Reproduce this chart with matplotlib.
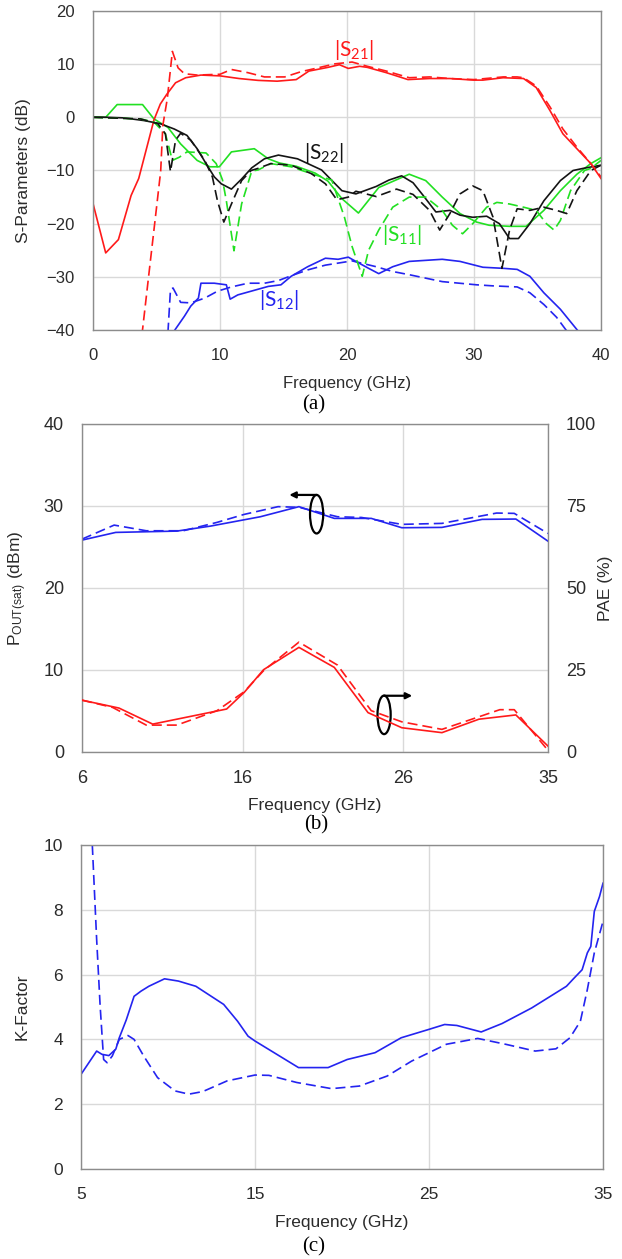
import matplotlib
matplotlib.use("Agg")
import matplotlib.pyplot as plt
from matplotlib.patches import Ellipse

plt.rcParams['font.family'] = ['Liberation Sans', 'DejaVu Sans']
plt.rcParams['mathtext.fontset'] = 'custom'
plt.rcParams['mathtext.rm'] = 'Liberation Sans'
plt.rcParams['mathtext.it'] = 'Liberation Sans'

# ---------------- (a) S-parameters ----------------
s21_sol_f = [0, 1.0, 2.0, 3.0, 3.6, 4.2, 4.8, 5.3, 5.8, 6.5, 7.3, 8.5, 10, 11.5, 13, 14.5, 16, 17,
             18.5, 19.4, 20.1, 21.0, 21.6, 23.1, 24.8, 26.5, 28.1, 30, 30.7, 32.3, 33.9, 34.9, 36.0,
             37.0, 38.1, 39.2, 40]
s21_sol = [-16.2, -25.5, -23.0, -14.7, -11.5, -6.0, -0.5, 2.5, 4.3, 6.5, 7.45, 7.95, 7.8, 7.3, 6.95,
           6.8, 7.1, 8.7, 9.4, 9.9, 9.2, 9.6, 9.4, 8.4, 7.1, 7.3, 7.3, 7.0, 7.0, 7.45, 7.3, 5.6, 1.2,
           -3.1, -5.9, -8.7, -11.5]
s21_dash_f = [3.85, 4.5, 5.0, 5.33, 5.5, 5.85, 6.25, 6.7, 7.2, 8.2, 10, 10.9, 12.2, 13.5, 15.1, 16.4,
              17.7, 19.05, 20.4, 21.6, 23.1, 24.9, 26.5, 28.1, 30, 32.3, 33.4, 33.9, 34.9, 36, 37,
              38.1, 39.2, 40]
s21_dash = [-41, -27.4, -17.0, -10.1, -1.5, 3.5, 12.4, 9.3, 8.2, 7.95, 8.1, 9.0, 8.4, 7.6, 7.6, 8.6,
            9.3, 10.06, 10.4, 9.6, 8.7, 7.45, 7.6, 7.3, 7.1, 7.6, 7.6, 7.45, 5.9, 1.9, -2.2, -5.6,
            -8.7, -11.2]

s11_sol_f = [0, 1.0, 1.9, 3.9, 4.8, 5.9, 6.9, 8.2, 9.2, 9.95, 10.9, 12.7, 13.8, 14.7, 16.0, 17.5,
             18.5, 19.6, 20.9, 22.5, 24.9, 26.2, 27.5, 28.9, 30.2, 31.2, 32.8, 34.1, 35.5, 36.8, 38.1,
             39.2, 40]
s11_sol = [0, 0, 2.4, 2.4, -0.3, -1.9, -5.0, -8.1, -9.3, -9.3, -6.5, -5.9, -7.8, -8.6, -9.2, -10.5,
           -12.0, -15.3, -18.0, -13.2, -10.7, -11.9, -15.0, -18.1, -19.7, -20.3, -20.5, -20.5, -17.5,
           -13.8, -10.7, -8.7, -7.6]
s11_dash_f = [0, 3.75, 4.8, 5.7, 6.25, 6.8, 7.4, 8.9, 9.7, 10.2, 10.5, 11.1, 11.7, 12.5, 13.0, 14.0,
              15.6, 17.2, 18.8, 19.8, 20.4, 21.2, 21.7, 22.5, 23.6, 24.9, 26.2, 27.5, 28.3, 29.1,
              29.9, 31.0, 31.8, 32.8, 33.9, 34.9, 35.7, 36.3, 36.8, 37.6, 38.7, 39.2, 40]
s11_dash = [0, -0.3, -0.9, -3.1, -8.1, -7.5, -6.5, -6.7, -8.7, -11.8, -15.7, -25.1, -16.3, -10.1,
            -9.9, -8.7, -9.3, -10.6, -11.8, -18.8, -24.3, -29.9, -25.0, -21.2, -16.9, -15.0, -15.0,
            -17.5, -20.3, -21.9, -20.0, -16.9, -16.0, -16.3, -16.9, -17.5, -20.0, -21.2, -19.4,
            -13.8, -10.0, -9.6, -8.1]

s22_sol_f = [0, 2.4, 4.0, 5.3, 6.4, 7.4, 8.2, 8.9, 9.55, 10.1, 10.9, 11.7, 12.5, 13.5, 14.6, 16.1,
             18.0, 19.6, 20.7, 22.3, 23.3, 24.3, 25.2, 26.0, 27.0, 28.1, 28.9, 29.9, 31.0, 32.0,
             32.8, 33.5, 34.4, 35.5, 36.8, 37.8, 38.6, 40]
s22_sol = [0.1, -0.1, -0.6, -1.2, -2.2, -3.4, -5.9, -8.7, -11.2, -12.5, -13.5, -11.6, -9.5, -7.8,
           -7.1, -7.8, -9.9, -13.8, -14.4, -13.0, -11.8, -11.0, -12.3, -14.7, -17.8, -17.5, -18.4,
           -18.8, -18.6, -20.0, -22.8, -22.8, -20.0, -15.7, -11.9, -10.0, -9.6, -9.0]
s22_dash_f = [0, 3.75, 5.1, 5.7, 6.1, 6.5, 6.9, 7.7, 8.8, 9.4, 9.8, 10.3, 10.9, 11.7, 12.45, 13.0,
              14.0, 15.6, 17.2, 18.3, 19.2, 20.1, 20.7, 22.3, 23.9, 25.2, 26.5, 27.3, 28.1, 28.9,
              29.9, 30.7, 31.5, 32.2, 32.8, 33.4, 34.4, 35.5, 36.5, 37.3, 38.1, 39.2, 40]
s22_dash = [0, -0.3, -1.2, -3.1, -10.2, -4.3, -3.0, -4.3, -8.1, -11.2, -15.7, -19.7, -16.3, -11.9,
            -10.0, -9.6, -8.7, -9.0, -10.6, -12.5, -15.5, -15.0, -13.9, -14.9, -13.5, -14.5, -17.5,
            -21.2, -18.1, -14.4, -12.9, -13.8, -18.8, -28.4, -21.2, -17.2, -17.5, -16.9, -17.5,
            -18.1, -13.8, -10.0, -9.0]

s12_sol_f = [6.3, 7.2, 7.7, 8.3, 8.5, 9.55, 10.5, 10.8, 11.4, 12.45, 13.8, 14.8, 15.6, 16.9, 18.3,
             19.3, 20.1, 20.7, 21.7, 22.5, 23.6, 24.9, 27.5, 28.9, 30.7, 32.3, 33.4, 34.4, 35.5,
             36.8, 38.3]
s12_sol = [-40.5, -37.4, -35.5, -34.0, -31.2, -31.2, -31.5, -34.2, -33.4, -32.7, -31.8, -31.5, -29.9,
           -28.1, -26.5, -26.7, -26.3, -27.1, -28.4, -29.4, -28.1, -27.1, -26.7, -27.1, -28.2, -28.4,
           -28.6, -29.9, -33.0, -36.1, -40.5]
s12_dash_f = [5.9, 6.1, 6.3, 6.9, 7.7, 8.8, 9.8, 10.9, 12.2, 13.5, 14.6, 15.6, 16.9, 18.3, 20.4,
              22.3, 23.6, 24.9, 27.5, 30.2, 31.5, 33.4, 34.4, 35.5, 36.5, 37.4]
s12_dash = [-40.5, -32.4, -32.1, -34.8, -34.9, -34.0, -32.7, -31.9, -31.2, -31.2, -30.7, -29.8,
            -28.7, -27.8, -27.0, -28.1, -29.0, -29.6, -30.9, -31.5, -31.7, -31.9, -33.0, -35.2,
            -37.6, -40.5]

# ---------------- (b) Pout / PAE ----------------
pout_sol_f = [6, 8.1, 11.9, 14.0, 17.1, 19.5, 21.7, 24.0, 25.9, 28.4, 30.9, 33.0, 35]
pout_sol = [25.84, 26.78, 26.94, 27.55, 28.69, 29.92, 28.49, 28.49, 27.35, 27.39, 28.37, 28.41, 25.71]
pout_dash_f = [6, 8.0, 10.0, 12.3, 14.4, 16.1, 18.2, 19.5, 21.9, 23.4, 25.9, 28.4, 31.8, 32.9, 35]
pout_dash = [25.96, 27.67, 26.98, 26.98, 28.0, 28.98, 29.92, 29.84, 28.69, 28.6, 27.76, 27.88, 29.14,
             29.1, 26.65]
pae_sol_f = [6, 8.3, 10.4, 15.0, 16.1, 17.3, 19.5, 21.7, 23.8, 25.9, 28.4, 30.7, 33.0, 35]
pae_sol = [15.8, 13.4, 8.5, 13.1, 18.2, 25.1, 31.9, 25.8, 12.0, 7.4, 5.9, 10.0, 11.3, 1.8]
pae_dash_f = [6, 7.9, 10.0, 11.9, 14.4, 16.1, 17.3, 19.5, 21.9, 24.0, 25.9, 28.4, 32.0, 32.9, 35]
pae_dash = [15.8, 13.6, 8.2, 8.2, 12.6, 18.4, 24.8, 33.5, 26.5, 12.6, 9.2, 6.9, 12.9, 12.9, 0.5]

# ---------------- (c) K-factor ----------------
k_sol_f = [5, 5.9, 6.2, 6.6, 7.0, 7.2, 7.6, 8.05, 8.45, 8.9, 9.8, 10.6, 11.6, 13.2, 14.0, 14.6, 15.0,
           17.5, 19.2, 20.3, 21.9, 23.4, 25.0, 25.9, 26.6, 28.0, 29.2, 30.9, 32.9, 33.3, 33.8, 34.1,
           34.3, 34.5, 34.8, 35]
k_sol = [2.92, 3.64, 3.54, 3.5, 3.7, 4.05, 4.6, 5.33, 5.49, 5.64, 5.87, 5.8, 5.64, 5.08, 4.56, 4.1,
         3.95, 3.13, 3.13, 3.38, 3.59, 4.05, 4.31, 4.46, 4.43, 4.23, 4.49, 4.97, 5.64, 5.87, 6.15,
         6.67, 6.87, 7.95, 8.41, 8.82]
k_dash_f = [5.65, 5.9, 6.1, 6.3, 6.5, 6.8, 7.2, 7.7, 8.05, 8.6, 9.4, 10.4, 11.2, 12.0, 13.4, 15.0,
            15.8, 17.4, 19.4, 21.0, 22.6, 24.0, 26.0, 27.8, 29.4, 31.1, 32.3, 33.1, 33.7, 34.1, 34.5,
            35]
k_dash = [10.0, 7.08, 5.03, 3.38, 3.28, 3.49, 4.0, 4.12, 4.0, 3.49, 2.82, 2.41, 2.31, 2.39, 2.72, 2.9,
          2.89, 2.67, 2.48, 2.56, 2.87, 3.33, 3.85, 4.03, 3.85, 3.64, 3.71, 4.05, 4.56, 5.54, 6.67,
          7.64]

RED = '#ff1a1a'
GREEN = '#22e022'
BLACK = '#141414'
BLUE = '#2424f0'
GRID = '#d9d9d9'
FRAME = '#8c8c8c'
TXT = '#2b2b2b'
LW = 1.2
DASH = (6, 3)

fig = plt.figure(figsize=(6.22, 12.59), dpi=100)
W, H = 622.0, 1259.0


def make_axes(l, r, t, b):
    return fig.add_axes([l / W, 1 - b / H, (r - l) / W, (b - t) / H])


def style(ax, fs):
    ax.grid(True, color=GRID, lw=1.0)
    ax.set_axisbelow(True)
    for s in ax.spines.values():
        s.set_color(FRAME)
        s.set_linewidth(1.0)
    ax.tick_params(length=0, pad=13, labelsize=fs, colors=TXT)


# (a)
axa = make_axes(93, 601, 11, 330)
style(axa, 12)
for f, v, c in [(s12_sol_f, s12_sol, BLUE), (s11_sol_f, s11_sol, GREEN),
                (s22_sol_f, s22_sol, BLACK), (s21_sol_f, s21_sol, RED)]:
    axa.plot(f, v, color=c, lw=LW)
for f, v, c in [(s12_dash_f, s12_dash, BLUE), (s11_dash_f, s11_dash, GREEN),
                (s22_dash_f, s22_dash, BLACK), (s21_dash_f, s21_dash, RED)]:
    axa.plot(f, v, color=c, lw=LW, ls=(0, DASH))
axa.set_xlim(0, 40)
axa.set_ylim(-40, 20)
axa.set_xticks([0, 10, 20, 30, 40])
axa.set_yticks([-40, -30, -20, -10, 0, 10, 20])
axa.set_xlabel('Frequency (GHz)', fontsize=12, color=TXT, labelpad=9)
axa.set_ylabel('S-Parameters (dB)', fontsize=12.5, color=TXT)
axa.yaxis.set_label_coords(-0.122, 0.5)
lab_kw = dict(fontsize=15, family=['Lato', 'DejaVu Sans'], ha='center', va='center')
plt.rcParams['mathtext.rm'] = 'Lato'
axa.text(20.5, 12.7, '|S$_\\mathregular{21}$|', color=RED, **lab_kw)
axa.text(18.2, -6.7, '|S$_\\mathregular{22}$|', color=BLACK, **lab_kw)
axa.text(24.3, -22.1, '|S$_\\mathregular{11}$|', color=GREEN, **lab_kw)
axa.text(14.6, -34.4, '|S$_\\mathregular{12}$|', color=BLUE, **lab_kw)

# (b)
axb = make_axes(82, 548, 424, 752)
style(axb, 13)
axb.plot(pout_sol_f, pout_sol, color=BLUE, lw=LW)
axb.plot(pout_dash_f, pout_dash, color=BLUE, lw=LW, ls=(0, DASH))
axb.set_xlim(6, 35)
axb.set_ylim(0, 40)
axb.set_xticks([6, 16, 26, 35])
axb.set_yticks([0, 10, 20, 30, 40])
axb2 = axb.twinx()
axb2.plot(pae_sol_f, pae_sol, color=RED, lw=LW)
axb2.plot(pae_dash_f, pae_dash, color=RED, lw=LW, ls=(0, DASH))
axb2.set_ylim(0, 100)
axb2.set_yticks([0, 25, 50, 75, 100])
axb2.tick_params(length=0, pad=13, labelsize=13, colors=TXT)
for s in axb2.spines.values():
    s.set_visible(False)
plt.rcParams['mathtext.rm'] = 'Liberation Sans'
axb.set_xlabel('Frequency (GHz)', fontsize=12.5, color=TXT, labelpad=8)
axb.set_ylabel('P$_\\mathregular{OUT(sat)}$ (dBm)', fontsize=12.5, color=TXT)
axb.yaxis.set_label_coords(-0.114, 0.5)
axb2.set_ylabel('PAE (%)', fontsize=12.5, color=TXT)
axb2.yaxis.set_label_coords(1.108, 0.5)
# annotation: ellipses with arrows
axb.add_patch(Ellipse((20.6, 29.0), 0.82, 4.7, fill=False, ec='black', lw=1.6, zorder=5))
axb.annotate('', xy=(18.9, 31.35), xytext=(20.6, 31.35),
             arrowprops=dict(arrowstyle='-|>', color='black', lw=1.6, mutation_scale=9,
                             shrinkA=0, shrinkB=0), zorder=5)
axb.add_patch(Ellipse((24.8, 4.53), 0.82, 4.7, fill=False, ec='black', lw=1.6, zorder=5))
axb.annotate('', xy=(26.55, 6.86), xytext=(24.8, 6.86),
             arrowprops=dict(arrowstyle='-|>', color='black', lw=1.6, mutation_scale=9,
                             shrinkA=0, shrinkB=0), zorder=5)

# (c)
axc = make_axes(81, 603, 845, 1169)
style(axc, 12.5)
axc.plot(k_sol_f, k_sol, color=BLUE, lw=LW)
axc.plot(k_dash_f, k_dash, color=BLUE, lw=LW, ls=(0, DASH))
axc.set_xlim(5, 35)
axc.set_ylim(0, 10)
axc.set_xticks([5, 15, 25, 35])
axc.set_yticks([0, 2, 4, 6, 8, 10])
axc.set_xlabel('Frequency (GHz)', fontsize=12.5, color=TXT, labelpad=9)
axc.set_ylabel('K-Factor', fontsize=12.5, color=TXT)
axc.yaxis.set_label_coords(-0.098, 0.5)

cap_kw = dict(fontsize=15, family=['Liberation Serif', 'DejaVu Serif'], ha='center', va='center',
              color='black')
fig.text(314 / W, 1 - 405 / H, '(a)', **cap_kw)
fig.text(316 / W, 1 - 825 / H, '(b)', **cap_kw)
fig.text(314 / W, 1 - 1247 / H, '(c)', **cap_kw)

fig.savefig('out.png', dpi=100)
